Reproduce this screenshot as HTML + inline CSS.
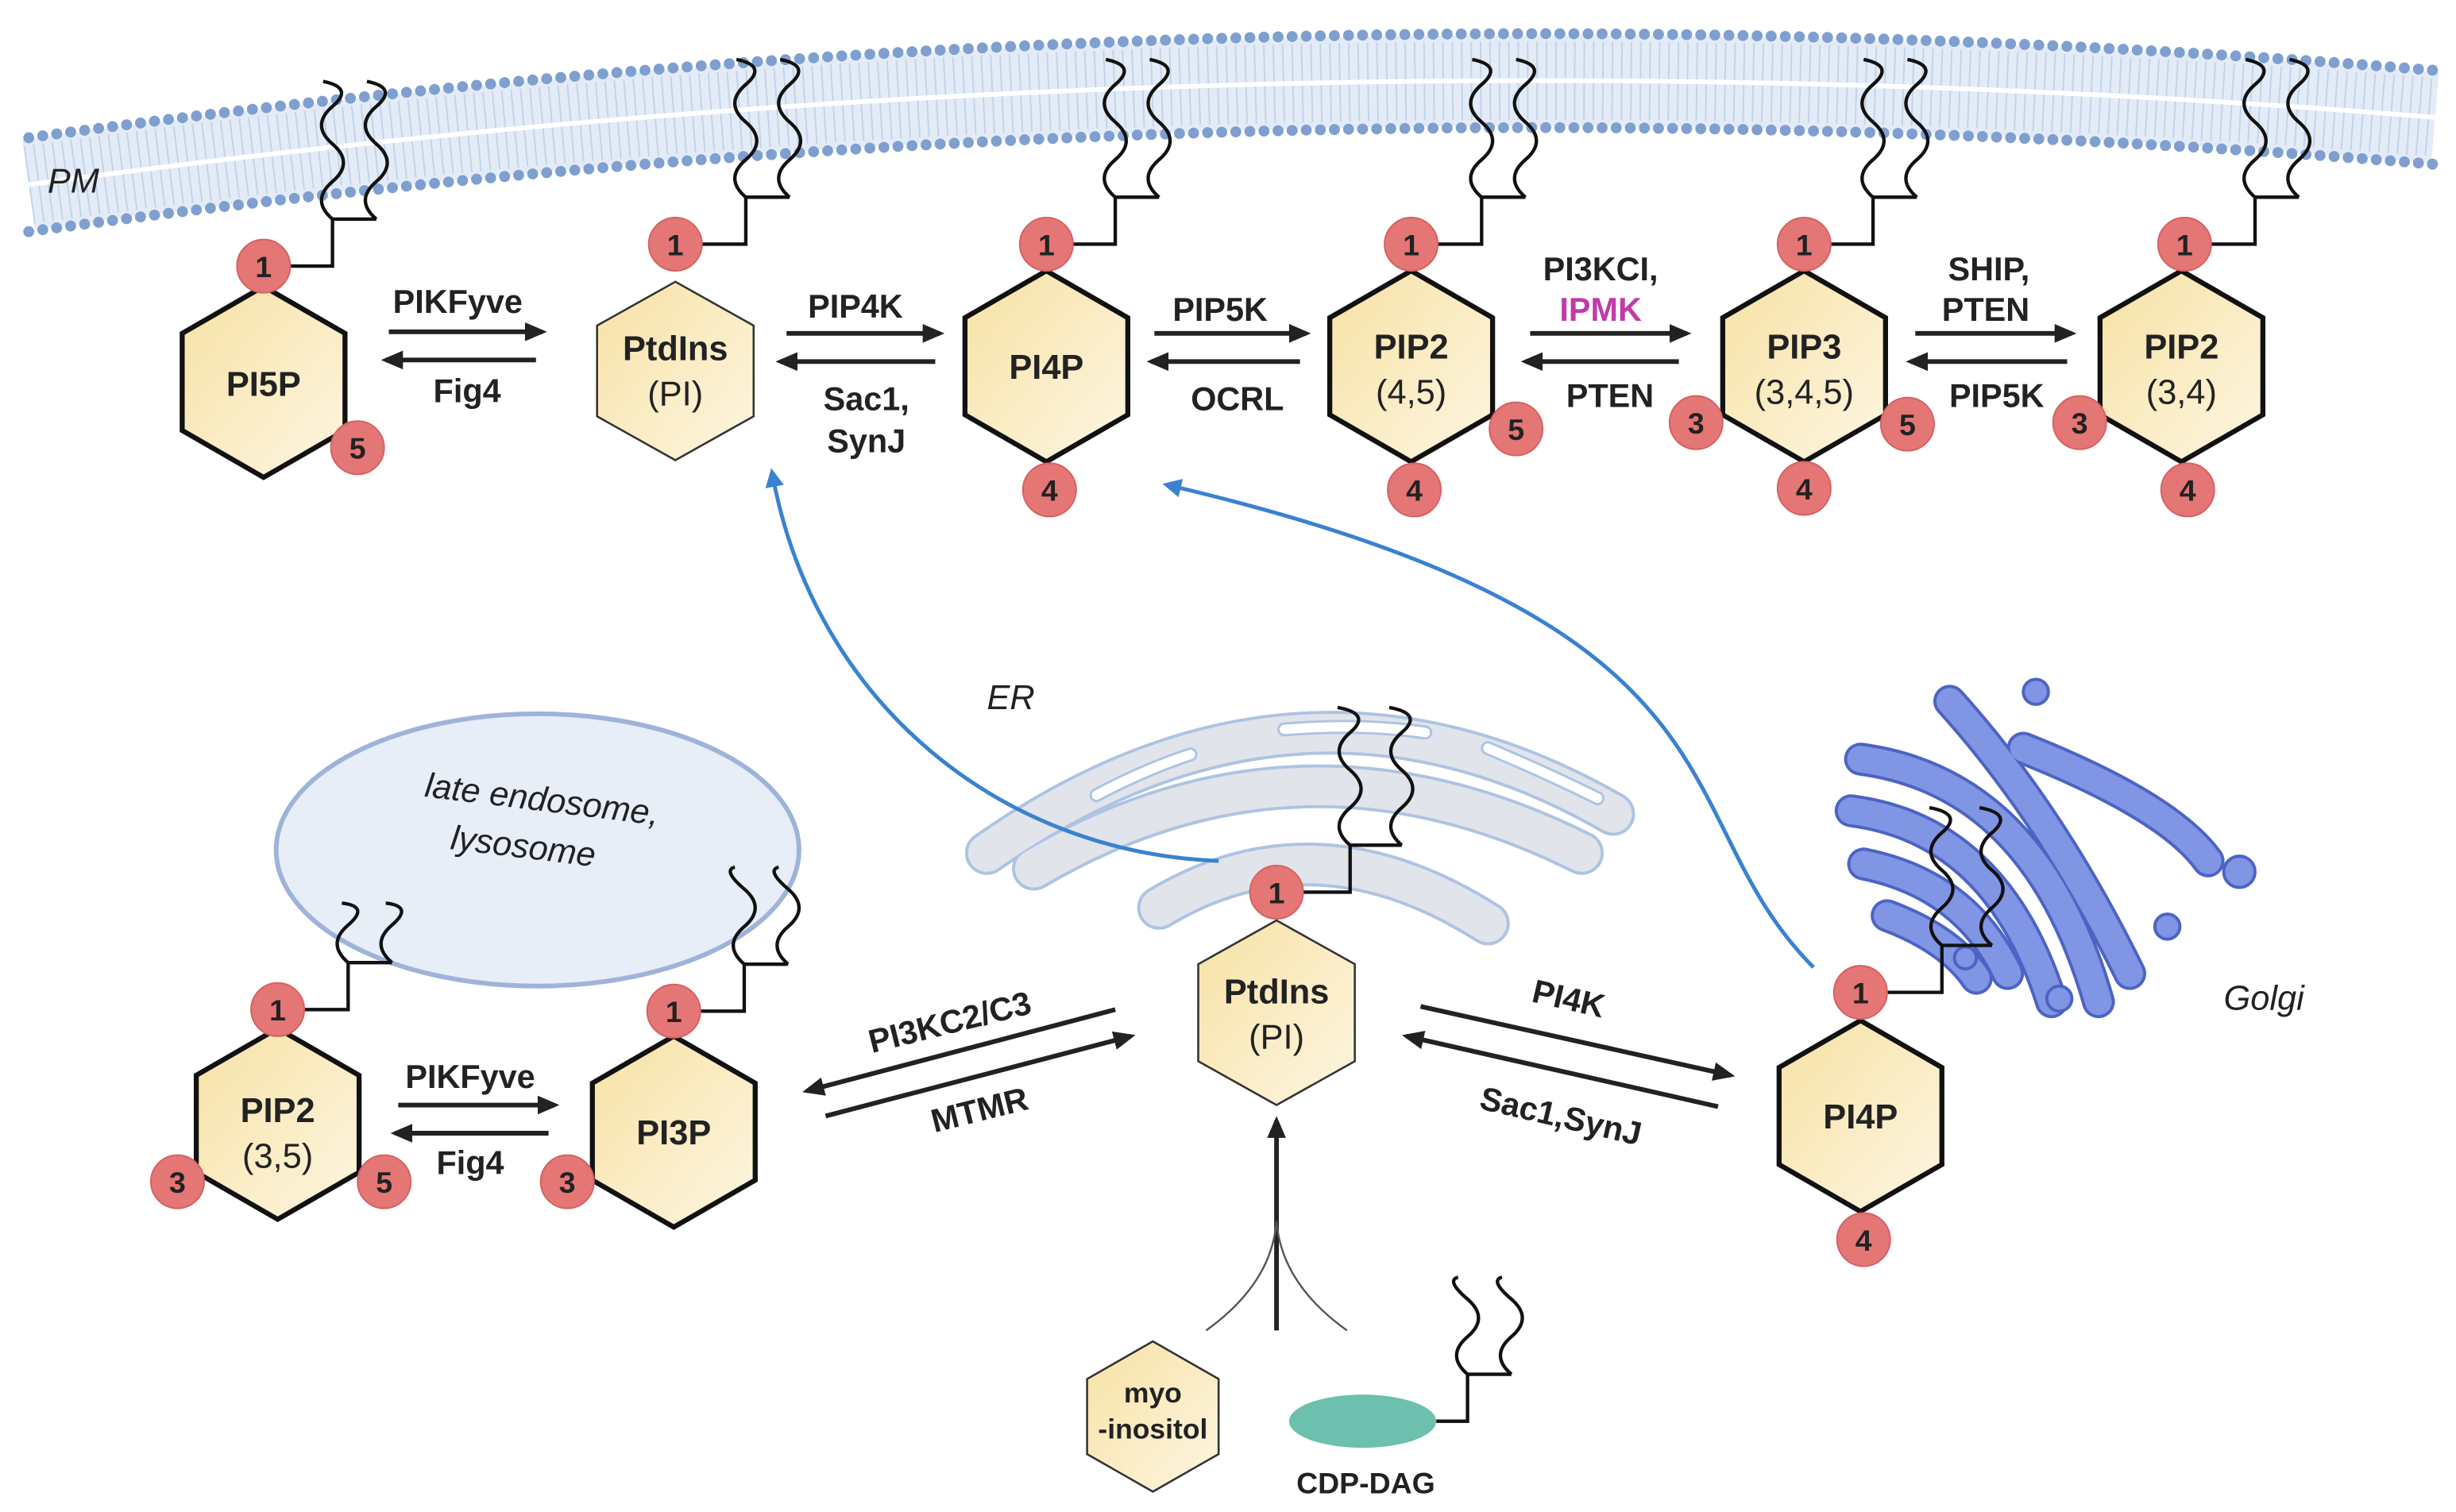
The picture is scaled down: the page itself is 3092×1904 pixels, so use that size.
<!DOCTYPE html>
<html><head><meta charset="utf-8"><style>
html,body{margin:0;padding:0;background:#fff;}
svg{display:block;}
text{font-family:"Liberation Sans",Arial,sans-serif;}
.lb{font-weight:bold;font-size:21px;fill:#222;text-anchor:middle;}
.hx{font-weight:bold;font-size:22px;fill:#222;text-anchor:middle;}
.nm{font-weight:bold;font-size:19px;fill:#222;text-anchor:middle;}
.it{font-style:italic;font-size:22px;fill:#222;}
.tail{fill:none;stroke:#111;stroke-width:2.2;}
.ar{stroke:#222;stroke-width:3;fill:none;}
.c1{fill:#e47676;stroke:#d66262;stroke-width:1;}
.hxt{fill:url(#g);stroke:#111;stroke-width:3.2;}
.hxn{fill:url(#g);stroke:#333;stroke-width:1.3;}
</style></head><body>
<svg width="3092" height="1904" viewBox="0 0 1568 966" xmlns="http://www.w3.org/2000/svg">
<defs>
<linearGradient id="g" x1="0" y1="0" x2="1" y2="1"><stop offset="0" stop-color="#f7e2a4"/><stop offset="1" stop-color="#fdf5e2"/></linearGradient>
<marker id="ah" markerWidth="14" markerHeight="14" refX="11" refY="7" orient="auto" markerUnits="userSpaceOnUse"><path d="M0,1 L14,7 L0,13 z" fill="#222"/></marker>
<marker id="bh" markerWidth="12" markerHeight="12" refX="8" refY="6" orient="auto" markerUnits="userSpaceOnUse"><path d="M0,0 L12,6 L0,12 z" fill="#3a82d0"/></marker>
</defs>

<!-- membrane -->
<path d="M18,118 Q790,12 1555,75" stroke="#e3ebf6" stroke-width="58" fill="none"/>
<path d="M18,118 Q790,12 1555,75" stroke="#c3d3ec" stroke-width="50" fill="none" stroke-dasharray="1 5"/>
<path d="M18,118 Q790,12 1555,75" stroke="#fff" stroke-width="3" fill="none"/>
<path d="M18,88 Q790,-18 1555,45" stroke="#7e9fd0" stroke-width="7" fill="none" stroke-dasharray="0 9" stroke-linecap="round"/>
<path d="M18,148 Q790,42 1555,105" stroke="#7e9fd0" stroke-width="7" fill="none" stroke-dasharray="0 9" stroke-linecap="round"/>
<text x="30" y="123" class="it">PM</text>

<!-- tails top row -->
<g class="tail">
<path d="M185,170 H212 V140 H240"/>
<path d="M212,140 q-14,-12 0,-24 t0,-24 t0,-24 t-6,-16"/>
<path d="M240,140 q-14,-12 0,-24 t0,-24 t0,-24 t-6,-16"/>
<path d="M448,156 H476 V126 H504"/>
<path d="M476,126 q-14,-12 0,-24 t0,-24 t0,-24 t-6,-16"/>
<path d="M504,126 q-14,-12 0,-24 t0,-24 t0,-24 t-6,-16"/>
<path d="M685,156 H712 V126 H740"/>
<path d="M712,126 q-14,-12 0,-24 t0,-24 t0,-24 t-6,-16"/>
<path d="M740,126 q-14,-12 0,-24 t0,-24 t0,-24 t-6,-16"/>
<path d="M918,156 H946 V126 H974"/>
<path d="M946,126 q-14,-12 0,-24 t0,-24 t0,-24 t-6,-16"/>
<path d="M974,126 q-14,-12 0,-24 t0,-24 t0,-24 t-6,-16"/>
<path d="M1169,156 H1196 V126 H1224"/>
<path d="M1196,126 q-14,-12 0,-24 t0,-24 t0,-24 t-6,-16"/>
<path d="M1224,126 q-14,-12 0,-24 t0,-24 t0,-24 t-6,-16"/>
<path d="M1412,156 H1440 V126 H1468"/>
<path d="M1440,126 q-14,-12 0,-24 t0,-24 t0,-24 t-6,-16"/>
<path d="M1468,126 q-14,-12 0,-24 t0,-24 t0,-24 t-6,-16"/>
</g>

<!-- top hexagons -->
<polygon class="hxt" points="168,183 220,213 220,275 168,305 116,275 116,213"/>
<text x="168" y="253" class="hx">PI5P</text>
<polygon class="hxn" points="431,180 481,208 481,266 431,294 381,266 381,208"/>
<text x="431" y="230" class="hx">PtdIns</text><text x="431" y="259" class="hx" style="font-weight:normal">(PI)</text>
<polygon class="hxt" points="668,173 720,203 720,265 668,295 616,265 616,203"/>
<text x="668" y="242" class="hx">PI4P</text>
<polygon class="hxt" points="901,173 953,203 953,265 901,295 849,265 849,203"/>
<text x="901" y="229" class="hx">PIP2</text><text x="901" y="258" class="hx" style="font-weight:normal">(4,5)</text>
<polygon class="hxt" points="1152,173 1204,203 1204,265 1152,295 1100,265 1100,203"/>
<text x="1152" y="229" class="hx">PIP3</text><text x="1152" y="258" class="hx" style="font-weight:normal">(3,4,5)</text>
<polygon class="hxt" points="1393,173 1445,203 1445,265 1393,295 1341,265 1341,203"/>
<text x="1393" y="229" class="hx">PIP2</text><text x="1393" y="258" class="hx" style="font-weight:normal">(3,4)</text>

<!-- top circles -->
<g>
<circle class="c1" cx="168" cy="170" r="17"/><text x="168" y="177" class="nm">1</text>
<circle class="c1" cx="228" cy="286" r="17"/><text x="228" y="293" class="nm">5</text>
<circle class="c1" cx="431" cy="156" r="17"/><text x="431" y="163" class="nm">1</text>
<circle class="c1" cx="668" cy="156" r="17"/><text x="668" y="163" class="nm">1</text>
<circle class="c1" cx="670" cy="313" r="17"/><text x="670" y="320" class="nm">4</text>
<circle class="c1" cx="901" cy="156" r="17"/><text x="901" y="163" class="nm">1</text>
<circle class="c1" cx="903" cy="313" r="17"/><text x="903" y="320" class="nm">4</text>
<circle class="c1" cx="968" cy="274" r="17"/><text x="968" y="281" class="nm">5</text>
<circle class="c1" cx="1152" cy="156" r="17"/><text x="1152" y="163" class="nm">1</text>
<circle class="c1" cx="1083" cy="270" r="17"/><text x="1083" y="277" class="nm">3</text>
<circle class="c1" cx="1152" cy="312" r="17"/><text x="1152" y="319" class="nm">4</text>
<circle class="c1" cx="1218" cy="271" r="17"/><text x="1218" y="278" class="nm">5</text>
<circle class="c1" cx="1395" cy="156" r="17"/><text x="1395" y="163" class="nm">1</text>
<circle class="c1" cx="1328" cy="270" r="17"/><text x="1328" y="277" class="nm">3</text>
<circle class="c1" cx="1397" cy="313" r="17"/><text x="1397" y="320" class="nm">4</text>
</g>

<!-- top arrows -->
<g class="ar">
<line x1="248" y1="212" x2="346" y2="212" marker-end="url(#ah)"/>
<line x1="342" y1="230" x2="246" y2="230" marker-end="url(#ah)"/>
<line x1="502" y1="213" x2="600" y2="213" marker-end="url(#ah)"/>
<line x1="597" y1="231" x2="498" y2="231" marker-end="url(#ah)"/>
<line x1="737" y1="213" x2="834" y2="213" marker-end="url(#ah)"/>
<line x1="830" y1="231" x2="735" y2="231" marker-end="url(#ah)"/>
<line x1="977" y1="213" x2="1077" y2="213" marker-end="url(#ah)"/>
<line x1="1072" y1="231" x2="974" y2="231" marker-end="url(#ah)"/>
<line x1="1223" y1="213" x2="1323" y2="213" marker-end="url(#ah)"/>
<line x1="1320" y1="231" x2="1220" y2="231" marker-end="url(#ah)"/>
</g>
<text x="292" y="200" class="lb">PIKFyve</text>
<text x="298" y="257" class="lb">Fig4</text>
<text x="546" y="203" class="lb">PIP4K</text>
<text x="553" y="262" class="lb">Sac1,</text>
<text x="553" y="289" class="lb">SynJ</text>
<text x="779" y="205" class="lb">PIP5K</text>
<text x="790" y="262" class="lb">OCRL</text>
<text x="1022" y="179" class="lb">PI3KCI,</text>
<text x="1022" y="205" class="lb" style="fill:#c03aa8">IPMK</text>
<text x="1028" y="260" class="lb">PTEN</text>
<text x="1270" y="179" class="lb">SHIP,</text>
<text x="1268" y="205" class="lb">PTEN</text>
<text x="1275" y="260" class="lb">PIP5K</text>

<!-- ER -->
<g fill="none" stroke-linecap="round">
<g stroke="#aec3e2" stroke-width="28">
<path d="M630,545 Q830,405 1030,520"/>
<path d="M660,555 Q830,455 1010,545" />
<path d="M740,580 Q840,520 950,590"/>
</g>
<g stroke="#e1e4eb" stroke-width="24">
<path d="M630,545 Q830,405 1030,520"/>
<path d="M660,555 Q830,455 1010,545" />
<path d="M740,580 Q840,520 950,590"/>
</g>
<g stroke="#aec3e2" stroke-width="9"><path d="M700,508 Q730,492 760,482"/><path d="M820,466 Q870,462 910,468"/><path d="M950,478 Q990,495 1020,510"/></g>
<g stroke="#fff" stroke-width="6"><path d="M700,508 Q730,492 760,482"/><path d="M820,466 Q870,462 910,468"/><path d="M950,478 Q990,495 1020,510"/></g>
</g>
<text x="630" y="453" class="it">ER</text>

<!-- Golgi -->
<g fill="none" stroke-linecap="round">
<g stroke="#4d63c4" stroke-width="21">
<path d="M1245,448 Q1310,520 1360,622"/>
<path d="M1188,485 Q1300,500 1340,640"/>
<path d="M1182,518 Q1275,530 1310,640"/>
<path d="M1190,552 Q1255,565 1282,622"/>
<path d="M1205,585 Q1245,600 1262,625"/>
<path d="M1292,478 Q1385,515 1410,550"/>
</g>
<g stroke="#8095e3" stroke-width="17">
<path d="M1245,448 Q1310,520 1360,622"/>
<path d="M1188,485 Q1300,500 1340,640"/>
<path d="M1182,518 Q1275,530 1310,640"/>
<path d="M1190,552 Q1255,565 1282,622"/>
<path d="M1205,585 Q1245,600 1262,625"/>
<path d="M1292,478 Q1385,515 1410,550"/>
</g>
</g>
<g fill="#8095e3" stroke="#4d63c4" stroke-width="2">
<circle cx="1300" cy="442" r="8"/><circle cx="1430" cy="557" r="10"/><circle cx="1255" cy="612" r="7"/><circle cx="1315" cy="638" r="8"/><circle cx="1384" cy="592" r="8"/>
</g>
<text x="1420" y="645" class="it">Golgi</text>

<!-- endosome -->
<ellipse cx="343" cy="543" rx="167" ry="87" fill="#e8eef8" stroke="#9fb3da" stroke-width="3"/>
<text x="345" y="518" class="it" text-anchor="middle" transform="rotate(7 345 518)">late endosome,</text>
<text x="333" y="548" class="it" text-anchor="middle" transform="rotate(7 333 548)">lysosome</text>

<!-- blue arrows -->
<path d="M778,550 C640,545 520,450 493,303" stroke="#3a82d0" stroke-width="2.5" fill="none" marker-end="url(#bh)"/>
<path d="M1158,618 C1060,520 1130,400 746,310" stroke="#3a82d0" stroke-width="2.5" fill="none" marker-end="url(#bh)"/>

<!-- bottom tails -->
<g class="tail">
<path d="M194,645 H222 V615 H250"/>
<path d="M222,615 q-14,-12 0,-24 t-4,-14"/>
<path d="M250,615 q-14,-12 0,-24 t-4,-14"/>
<path d="M447,646 H475 V616 H503"/>
<path d="M475,616 q-14,-12 0,-24 t0,-24 t-6,-14"/>
<path d="M503,616 q-14,-12 0,-24 t0,-24 t-6,-14"/>
<path d="M832,570 H862 V540 H895"/>
<path d="M862,540 q-14,-12 0,-24 t0,-24 t0,-24 t-8,-16"/>
<path d="M895,540 q-14,-12 0,-24 t0,-24 t0,-24 t-8,-16"/>
<path d="M1205,634 H1240 V604 H1272"/>
<path d="M1240,604 q-14,-12 0,-24 t0,-24 t0,-24 t-8,-16"/>
<path d="M1272,604 q-14,-12 0,-24 t0,-24 t0,-24 t-8,-16"/>
<path d="M917,908 H937 V878"/>
<path d="M937,878 q-14,-12 0,-24 t0,-24 t-6,-14"/>
<path d="M965,878 q-14,-12 0,-24 t0,-24 t-6,-14"/>
<path d="M937,878 H965"/>
</g>

<!-- bottom hexagons -->
<polygon class="hxt" points="177,657 229,687 229,749 177,779 125,749 125,687"/>
<text x="177" y="717" class="hx">PIP2</text><text x="177" y="746" class="hx" style="font-weight:normal">(3,5)</text>
<polygon class="hxt" points="430,662 482,692 482,754 430,784 378,754 378,692"/>
<text x="430" y="731" class="hx">PI3P</text>
<polygon class="hxn" points="815,588 865,616 865,678 815,706 765,678 765,616"/>
<text x="815" y="641" class="hx">PtdIns</text><text x="815" y="670" class="hx" style="font-weight:normal">(PI)</text>
<polygon class="hxt" points="1188,652 1240,682 1240,744 1188,774 1136,744 1136,682"/>
<text x="1188" y="721" class="hx">PI4P</text>
<polygon class="hxn" points="736,857 778,881 778,929 736,953 694,929 694,881"/>
<text x="736" y="896" class="lb" style="font-size:18px">myo</text><text x="736" y="919" class="lb" style="font-size:18px">-inositol</text>
<ellipse cx="870" cy="908" rx="47" ry="17" fill="#6cc0ad"/>
<text x="872" y="954" class="lb" style="font-size:19px">CDP-DAG</text>

<!-- bottom circles -->
<circle class="c1" cx="177" cy="645" r="17"/><text x="177" y="652" class="nm">1</text>
<circle class="c1" cx="113" cy="755" r="17"/><text x="113" y="762" class="nm">3</text>
<circle class="c1" cx="245" cy="755" r="17"/><text x="245" y="762" class="nm">5</text>
<circle class="c1" cx="430" cy="646" r="17"/><text x="430" y="653" class="nm">1</text>
<circle class="c1" cx="362" cy="755" r="17"/><text x="362" y="762" class="nm">3</text>
<circle class="c1" cx="815" cy="570" r="17"/><text x="815" y="577" class="nm">1</text>
<circle class="c1" cx="1188" cy="634" r="17"/><text x="1188" y="641" class="nm">1</text>
<circle class="c1" cx="1190" cy="792" r="17"/><text x="1190" y="799" class="nm">4</text>

<!-- bottom arrows -->
<g class="ar">
<line x1="254" y1="706" x2="354" y2="706" marker-end="url(#ah)"/>
<line x1="350" y1="724" x2="252" y2="724" marker-end="url(#ah)"/>
<line x1="712" y1="645" x2="515" y2="697" marker-end="url(#ah)"/>
<line x1="527" y1="713" x2="722" y2="662" marker-end="url(#ah)"/>
<line x1="907" y1="643" x2="1105" y2="687" marker-end="url(#ah)"/>
<line x1="1097" y1="707" x2="898" y2="662" marker-end="url(#ah)"/>
<line x1="815" y1="850" x2="815" y2="716" marker-end="url(#ah)"/>
</g>
<path d="M770,850 Q812,820 815,780 Q818,820 860,850" stroke="#555" stroke-width="1.2" fill="none"/>
<text x="300" y="695" class="lb">PIKFyve</text>
<text x="300" y="750" class="lb">Fig4</text>
<text x="608" y="660" class="lb" transform="rotate(-14 608 660)">PI3KC2/C3</text>
<text x="627" y="716" class="lb" transform="rotate(-14 627 716)">MTMR</text>
<text x="1000" y="645" class="lb" transform="rotate(13 1000 645)">PI4K</text>
<text x="995" y="720" class="lb" transform="rotate(13 995 720)">Sac1,SynJ</text>
</svg>
</body></html>
